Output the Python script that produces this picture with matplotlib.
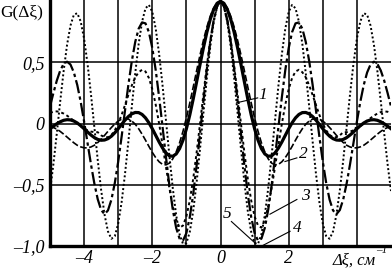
import numpy as np
import matplotlib
matplotlib.use("Agg")
import matplotlib.pyplot as plt

# values for dxi = 0, 0.1, ..., 5.0 (curves are symmetric about 0)
dxi = np.linspace(0, 5, 51)

g_a = [1.000, 0.955, 0.828, 0.629, 0.374, 0.089, -0.205, -0.480, -0.714, -0.884,
       -0.976, -0.983, -0.904, -0.748, -0.526, -0.259, 0.029, 0.314, 0.569, 0.776,
       0.913, 0.970, 0.942, 0.833, 0.651, 0.413, 0.142, -0.142, -0.411, -0.642,
       -0.817, -0.920, -0.941, -0.881, -0.744, -0.543, -0.298, -0.027, 0.243, 0.491,
       0.694, 0.835, 0.902, 0.890, 0.801, 0.643, 0.430, 0.183, -0.079, -0.331, -0.551]

g_b = [1.000, 0.959, 0.846, 0.670, 0.445, 0.188, -0.081, -0.342, -0.576, -0.764,
       -0.894, -0.956, -0.940, -0.852, -0.702, -0.503, -0.271, -0.025, 0.217, 0.437,
       0.618, 0.748, 0.819, 0.827, 0.776, 0.668, 0.512, 0.320, 0.108, -0.107,
       -0.311, -0.486, -0.622, -0.709, -0.740, -0.706, -0.618, -0.488, -0.330, -0.157,
       0.017, 0.178, 0.315, 0.418, 0.483, 0.506, 0.488, 0.434, 0.352, 0.250, 0.140]

g_c = [1.000, 0.954, 0.844, 0.681, 0.475, 0.243, 0.000, -0.236, -0.450, -0.628,
       -0.758, -0.833, -0.850, -0.786, -0.674, -0.525, -0.353, -0.174, 0.000, 0.155,
       0.282, 0.373, 0.426, 0.440, 0.420, 0.378, 0.313, 0.235, 0.152, 0.071,
       0.000, -0.056, -0.093, -0.111, -0.111, -0.096, -0.070, -0.070, -0.065, -0.055,
       -0.040, -0.021, 0.000, 0.023, 0.045, 0.065, 0.082, 0.094, 0.100, 0.097, 0.087]

g_d = [1.000, 0.986, 0.945, 0.878, 0.789, 0.682, 0.561, 0.432, 0.299, 0.169,
       0.047, -0.063, -0.157, -0.232, -0.288, -0.323, -0.337, -0.333, -0.312, -0.278,
       -0.235, -0.186, -0.135, -0.086, -0.042, -0.005, 0.021, 0.037, 0.042, 0.036,
       0.021, -0.003, -0.032, -0.063, -0.096, -0.127, -0.155, -0.177, -0.191, -0.198,
       -0.198, -0.190, -0.177, -0.157, -0.134, -0.110, -0.086, -0.064, -0.045, -0.032, -0.023]

g_e = [1.000, 0.983, 0.933, 0.853, 0.747, 0.621, 0.484, 0.342, 0.202, 0.072,
       -0.042, -0.135, -0.204, -0.248, -0.267, -0.263, -0.239, -0.199, -0.150, -0.096,
       -0.042, 0.007, 0.047, 0.075, 0.090, 0.091, 0.080, 0.058, 0.028, -0.006,
       -0.042, -0.075, -0.103, -0.123, -0.134, -0.136, -0.129, -0.114, -0.093, -0.068,
       -0.042, -0.017, 0.005, 0.021, 0.030, 0.032, 0.027, 0.015, -0.001, -0.021, -0.042]

x_ticks = [-4, -2, 0, 2]
y_ticks = [-1.0, -0.5, 0, 0.5]
y_tick_labels = ['-1,0', '-0,5', '0', '0,5']


def mirror(v):
    v = np.asarray(v)
    return np.concatenate([v[:0:-1], v])


x = np.concatenate([-dxi[:0:-1], dxi])

fig = plt.figure(figsize=(3.92, 2.70), dpi=100)
ax = fig.add_axes([50 / 392, 24 / 270, 341 / 392, 246 / 270])

ax.plot(x, mirror(g_a), color='black', lw=1.4, ls=(0, (1, 1.2)))
ax.plot(x, mirror(g_b), color='black', lw=1.6, ls=(0, (6, 1.5, 1.5, 1.5)))
ax.plot(x, mirror(g_c), color='black', lw=1.4, ls=(0, (1.5, 1.5)))
ax.plot(x, mirror(g_d), color='black', lw=1.2, ls=(0, (4, 1.5)))
ax.plot(x, mirror(g_e), color='black', lw=2.3, ls='-')

ax.set_xlim(-5, 5)
ax.set_ylim(-1.0, 1.01)

for gx in range(-4, 5):
    ax.axvline(gx, color='black', lw=1.1, zorder=0)
for gy in [-0.5, 0, 0.5]:
    ax.axhline(gy, color='black', lw=1.1, zorder=0)

for s in ['top', 'right']:
    ax.spines[s].set_visible(False)
ax.spines['left'].set_linewidth(2.4)
ax.spines['bottom'].set_linewidth(2.4)

tfont = dict(family='Liberation Serif', style='italic', size=13)
ax.set_xticks(x_ticks)
ax.set_xticklabels([str(t).replace('-', '\u2013') for t in x_ticks], **tfont)
ax.set_yticks(y_ticks)
ax.set_yticklabels([t.replace('-', '\u2013') for t in y_tick_labels], **tfont)
ax.tick_params(axis='x', length=0, pad=3)
ax.tick_params(axis='y', length=0, pad=4)

fig.text(0.0, 0.955, 'G(\u0394\u03be)', family='Liberation Serif', size=12.5, ha='left', va='center')
ax.text(3.3, -1.15, '\u0394\u03be, \u0441\u043c', family='Liberation Serif', style='italic',
        size=12, ha='left', va='baseline', clip_on=False)
ax.text(4.55, -1.06, '\u20131', family='Liberation Serif', style='italic',
        size=8, ha='left', va='baseline', clip_on=False)

# curve labels with leader lines
lab = dict(family='Liberation Serif', style='italic', size=12.5, ha='center', va='center')
ax.plot([0.47, 1.09], [0.17, 0.21], color='black', lw=0.8)
ax.text(1.24, 0.23, '1', **lab)
ax.plot([1.89, 2.24], [-0.31, -0.28], color='black', lw=0.8)
ax.text(2.42, -0.25, '2', **lab)
ax.plot([1.45, 2.24], [-0.74, -0.62], color='black', lw=0.8)
ax.text(2.48, -0.59, '3', **lab)
ax.plot([1.21, 2.04], [-1.0, -0.88], color='black', lw=0.8)
ax.text(2.24, -0.85, '4', **lab)
ax.plot([0.32, 1.03], [-0.80, -0.98], color='black', lw=0.8)
ax.text(0.18, -0.74, '5', **lab)

fig.savefig('out.png', dpi=100)
